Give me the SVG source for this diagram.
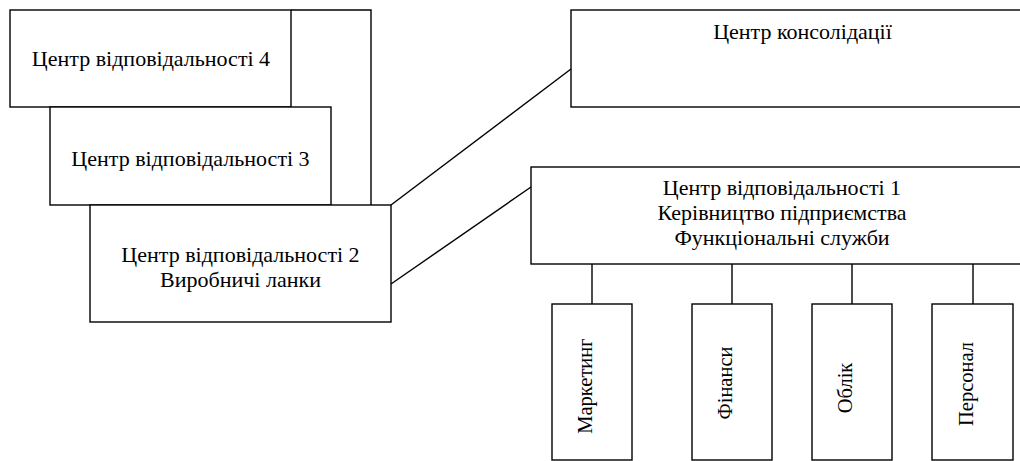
<svg xmlns="http://www.w3.org/2000/svg" width="1020" height="461" viewBox="0 0 1020 461">
<style>
.box{fill:#fff;stroke:#000;stroke-width:1.4}
.ln{fill:none;stroke:#000;stroke-width:1.4}
text{font-family:"Liberation Serif","Times New Roman",serif;font-size:22px;fill:#000;text-anchor:middle}
text.v{font-size:20.5px}
</style>
<rect x="0" y="0" width="1020" height="461" fill="#fff"/>
<g id="node-c4">
<path class="ln" d="M291,10 H371 V205"/>
<rect class="box" x="10" y="10" width="281" height="97"/>
<text x="151" y="66">Центр відповідальності 4</text>
</g>
<g id="node-c3">
<rect class="box" x="50" y="107" width="281" height="98"/>
<text x="190.5" y="166">Центр відповідальності 3</text>
</g>
<g id="node-c2">
<rect class="box" x="90" y="205" width="301" height="117"/>
<text x="240.5" y="262">Центр відповідальності 2</text>
<text x="240.5" y="287">Виробничі ланки</text>
</g>
<g id="node-cons">
<rect class="box" x="571" y="10" width="463" height="97"/>
<text x="802.5" y="39">Центр консолідації</text>
</g>
<g id="node-c1">
<rect class="box" x="531" y="167" width="503" height="97"/>
<text x="782" y="195">Центр відповідальності 1</text>
<text x="782" y="220">Керівництво підприємства</text>
<text x="782" y="245">Функціональні служби</text>
</g>
<g id="connectors">
<line class="ln" x1="391" y1="205" x2="571" y2="69"/>
<line class="ln" x1="391" y1="284" x2="531" y2="187"/>
<line class="ln" x1="592" y1="264" x2="592" y2="304"/>
<line class="ln" x1="732" y1="264" x2="732" y2="304"/>
<line class="ln" x1="852" y1="264" x2="852" y2="304"/>
<line class="ln" x1="973" y1="264" x2="973" y2="304"/>
</g>
<g id="node-marketing">
<rect class="box" x="552" y="304" width="80" height="156"/>
<text class="v" transform="translate(592,386) rotate(-90)">Маркетинг</text>
</g>
<g id="node-finance">
<rect class="box" x="692" y="304" width="80" height="156"/>
<text class="v" transform="translate(732,383) rotate(-90)">Фінанси</text>
</g>
<g id="node-accounting">
<rect class="box" x="812" y="304" width="80" height="156"/>
<text class="v" transform="translate(852,388) rotate(-90)">Облік</text>
</g>
<g id="node-personnel">
<rect class="box" x="932" y="304" width="81" height="156"/>
<text class="v" transform="translate(973,384) rotate(-90)">Персонал</text>
</g>
</svg>
